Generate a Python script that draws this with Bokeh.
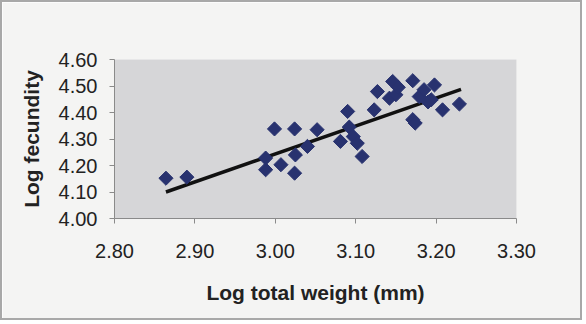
from bokeh.plotting import figure
from bokeh.models import FixedTicker, NumeralTickFormatter, Range1d
from bokeh.embed import file_html
from bokeh.resources import INLINE
import numpy as np

# data
log_weight = [2.864, 2.890, 2.988, 2.988, 2.999, 3.007, 3.024, 3.024, 3.025, 3.040,
              3.052, 3.081, 3.090, 3.092, 3.097, 3.102, 3.108, 3.123, 3.127, 3.142,
              3.146, 3.150, 3.153, 3.171, 3.171, 3.174, 3.179, 3.185, 3.190, 3.198,
              3.194, 3.208, 3.229]
log_fecundity = [4.152, 4.156, 4.184, 4.228, 4.338, 4.203, 4.338, 4.171, 4.240, 4.272,
                 4.335, 4.291, 4.404, 4.345, 4.309, 4.284, 4.234, 4.410, 4.479, 4.454,
                 4.517, 4.467, 4.495, 4.520, 4.373, 4.360, 4.460, 4.486, 4.440, 4.504,
                 4.448, 4.410, 4.432]
trend_x = [2.864, 3.231]
trend_y = [4.100, 4.487]
x_ticks = [2.80, 2.90, 3.00, 3.10, 3.20, 3.30]
y_ticks = [4.00, 4.10, 4.20, 4.30, 4.40, 4.50, 4.60]

FONT = "Liberation Sans"

p = figure(width=578, height=316, output_backend="svg", toolbar_location=None,
           x_range=Range1d(2.80, 3.30), y_range=Range1d(4.00, 4.60),
           frame_width=402, frame_height=159,
           min_border_left=112, min_border_right=64,
           min_border_top=57, min_border_bottom=100)
p.background_fill_color = "#d6d6d8"
p.border_fill_color = "#f4f4f3"
p.outline_line_color = None
p.grid.visible = False
p.styles = {"border": "2px solid #a8a8a8", "box-sizing": "border-box"}

p.line(trend_x, trend_y, line_color="#111111", line_width=3.5)
p.scatter(log_weight, log_fecundity, marker="square", angle=np.pi / 4, size=10,
          fill_color="#28326f", line_color="#28326f")

for ax in (p.xaxis[0], p.yaxis[0]):
    ax.axis_line_color = "#8a8a8a"
    ax.major_tick_line_color = "#8a8a8a"
    ax.minor_tick_line_color = None
    ax.major_tick_in = 0
    ax.major_tick_out = 5
    ax.major_label_text_font = FONT
    ax.major_label_text_font_size = "20px"
    ax.major_label_text_color = "#222222"
    ax.axis_label_text_font = FONT
    ax.axis_label_text_font_size = "21px"
    ax.axis_label_text_font_style = "bold"
    ax.axis_label_text_color = "#222222"
    ax.formatter = NumeralTickFormatter(format="0.00")

p.xaxis.ticker = FixedTicker(ticks=x_ticks)
p.yaxis.ticker = FixedTicker(ticks=y_ticks)
p.xaxis.axis_label = "Log total weight (mm)"
p.yaxis.axis_label = "Log fecundity"
p.xaxis.major_label_standoff = 20
p.yaxis.major_label_standoff = 12
p.xaxis.axis_label_standoff = 20
p.yaxis.axis_label_standoff = 13

open("out.html", "w").write(file_html(p, INLINE))
